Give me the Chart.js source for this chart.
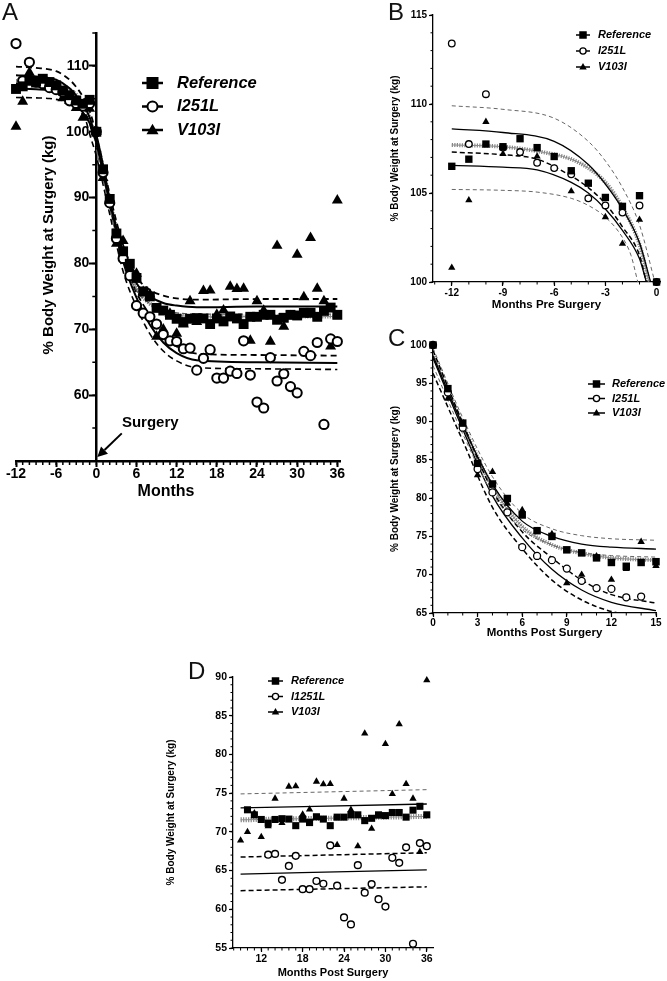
<!DOCTYPE html>
<html>
<head>
<meta charset="utf-8">
<script src="https://cdn.jsdelivr.net/npm/chart.js@4.4.1/dist/chart.umd.min.js"></script>
<style>
  body { margin: 0; background: #fff; }
  #wrap { position: relative; width: 667px; height: 981px; overflow: hidden; }
  canvas { position: absolute; }
  .lab { position: absolute; font: 24px "Liberation Sans", Arial, sans-serif; line-height: 24px; color: #111; }
</style>
</head>
<body>
<div id="wrap">
  <canvas id="cA" width="352" height="500" style="left:0;top:0"></canvas>
  <canvas id="cB" width="282" height="316" style="left:385px;top:0"></canvas>
  <canvas id="cC" width="282" height="314" style="left:385px;top:330px"></canvas>
  <canvas id="cD" width="300" height="341" style="left:150px;top:640px"></canvas>
  <div class="lab" style="left:2px;top:0">A</div>
  <div class="lab" style="left:388px;top:0">B</div>
  <div class="lab" style="left:388px;top:326px">C</div>
  <div class="lab" style="left:188px;top:659px">D</div>
</div>
<script>
// months relative to surgery
var months = [-12,-11,-10,-9,-8,-7,-6,-5,-4,-3,-2,-1,0,
  1,2,3,4,5,6,7,8,9,10,11,12,
  13,14,15,16,17,18,19,20,21,22,23,24,
  25,26,27,28,29,30,31,32,33,34,35,36];

// % body weight at surgery
var refVals = [106.5,106.9,107.75,107.6,108.05,107.55,107.05,106.25,105.55,104.75,104.25,104.85,100,
  94.3,89.8,84.55,81.85,79.95,77.8,75.75,75.0,73.25,72.85,72.2,71.6,
  71.1,71.6,71.7,71.65,70.8,71.65,71.2,71.95,71.65,70.8,71.9,71.9,
  72.2,72.2,71.45,71.75,72.2,72.1,72.5,72.5,71.9,72.8,73.3,72.2];
var i251Vals = [113.4,107.75,110.55,107.55,107.3,106.7,106.4,106.05,104.7,104.3,103.9,104.3,100,
  93.8,89.2,83.8,80.75,78.15,73.6,72.45,71.9,70.8,69.2,68.25,68.15,
  67.05,67.15,63.8,65.6,66.9,62.6,62.6,63.65,63.3,68.25,63.05,58.95,
  58.05,65.7,62.15,63.25,61.3,60.35,66.65,66.0,68.0,55.55,68.55,68.15];
var v103Vals = [100.8,104.6,109.0,107.2,107.2,107.05,106.4,105.1,104.7,103.65,102.15,103.5,100,
  93.0,89.5,83.0,83.45,79.3,78.45,75.7,75.3,68.9,70.0,72.4,69.35,
  70.75,74.3,71.15,75.85,75.9,72.25,72.9,76.5,76.15,76.2,68.3,74.3,
  72.85,68.15,82.7,70.4,72.0,81.35,74.9,83.9,76.2,74.3,67.4,89.6];

// first month shown in panel D for each series
var dFirst = { ref: 10, i251: 13, v103: 9 };

// fitted curves, pre surgery (panel B)
var fitPreHiDash  = [[-12,109.9],[-9,109.7],[-6,109.2],[-4,107.9],[-3,106.8],[-2,105.3],[-1,103.2],[-0.1,100]];
var fitPreHiSolid = [[-12,108.6],[-9,108.4],[-6,107.9],[-4,106.6],[-3,105.5],[-2,104.1],[-1,102.2],[-0.35,100]];
var fitPreRef     = [[-12,107.7],[-9,107.6],[-7,107.35],[-5,106.9],[-4,106.4],[-3,105.6],[-2,104.2],[-1,102.1],[-0.45,100]];
var fitPreMidDash = [[-12,107.3],[-9,107.15],[-7,106.9],[-5,105.95],[-4,105.3],[-3,104.4],[-2,103.1],[-1,101.5],[-0.6,100]];
var fitPreLoSolid = [[-12,106.55],[-9,106.45],[-7,106.3],[-5,105.6],[-4,105.0],[-3,104.1],[-2,102.9],[-1,101.3],[-0.6,100]];
var fitPreLoDash  = [[-12,105.2],[-9,105.15],[-7,105.05],[-5,104.7],[-4,104.3],[-3,103.65],[-2,102.5],[-1.5,101.5],[-1.1,100]];

// fitted curves, post surgery (panel C)
var fitPostV103Hi = [[0,99.6],[2,90.5],[4,82.8],[6,78.0],[8,76.0],[10,75.1],[12,74.7],[15,74.5]];
var fitPostV103   = [[0,98.6],[2,89.5],[4,81.8],[6,77.0],[8,75.0],[10,74.0],[12,73.6],[15,73.35]];
var fitPostV103Lo = [[0,97.3],[2,88.4],[4,80.6],[6,75.9],[8,73.9],[10,72.9],[12,72.5],[15,72.3]];
var fitPostRef    = [[0,98.8],[2,89.6],[4,81.5],[6,76.3],[8,73.9],[10,72.8],[12,72.2],[15,71.9]];
var fitPostI251Hi = [[0,99.3],[2,89.8],[4,81.0],[6,75.6],[8,72.2],[10,69.3],[12,67.4],[15,66.3]];
var fitPostI251   = [[0,98.3],[2,89.0],[4,80.3],[6,74.8],[8,70.7],[10,68.0],[12,66.4],[15,65.3]];
var fitPostI251Lo = [[0,96.3],[2,87.5],[4,78.8],[6,73.4],[8,69.3],[10,66.7],[12,65.2],[15,64.2]];

// plateau of the curves after 15 months (panel A)
var tailV103Hi = [[24,74.6],[36,74.6]];
var tailV103   = [[24,73.45],[36,73.45]];
var tailV103Lo = [[24,72.3],[36,72.3]];
var tailRef    = [[24,71.95],[36,71.95]];
var tailI251Hi = [[24,66.1],[36,66.0]];
var tailI251   = [[24,65.0],[36,64.9]];
var tailI251Lo = [[24,64.0],[36,63.9]];

// straight fits 9-36 months (panel D)
var fitLateV103Hi = [[9,74.9],[36,75.45]];
var fitLateV103   = [[9,73.1],[36,73.6]];
var fitLateRef    = [[9,71.55],[36,72.0]];
var fitLateI251Hi = [[9,66.75],[36,67.3]];
var fitLateI251   = [[9,64.55],[36,65.1]];
var fitLateI251Lo = [[9,62.4],[36,62.9]];

// tick labels
var aTicksX = [-12,-6,0,6,12,18,24,30,36];
var aTicksY = [60,70,80,90,100,110];
var bTicksX = [-12,-9,-6,-3,0];
var bTicksY = [100,105,110,115];
var cTicksX = [0,3,6,9,12,15];
var cTicksY = [65,70,75,80,85,90,95,100];
var dTicksX = [12,18,24,30,36];
var dTicksY = [55,60,65,70,75,80,85,90];

var seriesNames = ['Reference', 'I251L', 'V103I'];
var seriesNamesD = ['Reference', 'I1251L', 'V103I'];
var yTitle = '% Body Weight at Surgery (kg)';

var FAM = '"Liberation Sans", Arial, Helvetica, sans-serif';
Chart.defaults.font.family = FAM;
Chart.defaults.color = '#000';
Chart.defaults.animation = false;
Chart.defaults.events = [];
Chart.defaults.plugins.legend.display = false;
Chart.defaults.plugins.tooltip.enabled = false;

function pts(vals, lo, hi, ymin, ymax) {
  var out = [];
  months.forEach(function (m, i) {
    if (m >= lo && m <= hi && vals[i] >= ymin && vals[i] <= ymax) out.push({ x: m, y: vals[i] });
  });
  return out;
}
function xy(arr) { return arr.map(function (p) { return { x: p[0], y: p[1] }; }); }

function drawMark(ctx, shape, x, y, s, bw) {
  ctx.beginPath();
  if (shape === 'rect') {
    ctx.fillStyle = '#000';
    ctx.fillRect(x - s / 2, y - s / 2, s, s);
    return;
  }
  if (shape === 'circle') {
    ctx.arc(x, y, s / 2 - bw / 2, 0, Math.PI * 2);
    ctx.fillStyle = '#fff'; ctx.fill();
    ctx.lineWidth = bw; ctx.stroke();
    return;
  }
  var h = s * 0.87;
  ctx.moveTo(x, y - h * 0.6);
  ctx.lineTo(x + s / 2, y + h * 0.4);
  ctx.lineTo(x - s / 2, y + h * 0.4);
  ctx.closePath();
  ctx.fillStyle = '#000'; ctx.fill();
}

// minor ticks, inside legend, extra labels and the arrow
var extras = {
  id: 'extras',
  afterDraw: function (chart, args, o) {
    var ctx = chart.ctx, xs = chart.scales.x, ys = chart.scales.y, ca = chart.chartArea;
    ctx.save();
    ctx.strokeStyle = '#000';
    ctx.fillStyle = '#000';
    if (o.minor) {
      var m = o.minor, v;
      ctx.lineWidth = m.w;
      ctx.beginPath();
      for (v = Math.ceil(xs.min); v <= xs.max + 1e-9; v += m.xStep) {
        var px = xs.getPixelForValue(v);
        ctx.moveTo(px, ca.bottom); ctx.lineTo(px, ca.bottom + m.len);
      }
      var ax = (m.yAt !== undefined && m.yAt !== null) ? xs.getPixelForValue(m.yAt) : ca.left;
      for (v = Math.ceil(ys.min); v <= ys.max + 1e-9; v += m.yStep) {
        var py = ys.getPixelForValue(v);
        ctx.moveTo(ax, py); ctx.lineTo(ax - m.len, py);
      }
      ctx.stroke();
    }
    if (o.legend) {
      var L = o.legend;
      L.items.forEach(function (it, i) {
        var y = L.y + i * L.gap;
        ctx.strokeStyle = '#000';
        ctx.lineWidth = L.lw;
        ctx.beginPath(); ctx.moveTo(L.x0, y); ctx.lineTo(L.x1, y); ctx.stroke();
        drawMark(ctx, it.shape, (L.x0 + L.x1) / 2, y, L.ms, L.bw);
        ctx.fillStyle = '#000';
        ctx.font = 'italic bold ' + L.fs + 'px ' + FAM;
        ctx.textAlign = 'left'; ctx.textBaseline = 'middle';
        ctx.fillText(it.label, L.tx, y);
      });
    }
    (o.texts || []).forEach(function (t) {
      var x = t.x, y = t.y;
      if (t.vx !== undefined) { x = xs.getPixelForValue(t.vx); y = ys.getPixelForValue(t.vy); }
      ctx.save();
      ctx.translate(x, y);
      if (t.rot) ctx.rotate(t.rot);
      ctx.font = 'bold ' + t.fs + 'px ' + FAM;
      ctx.textAlign = 'center'; ctx.textBaseline = 'middle';
      ctx.fillStyle = '#000';
      ctx.fillText(t.t, 0, 0);
      ctx.restore();
    });
    if (o.arrow) {
      var a = o.arrow;
      var x1 = xs.getPixelForValue(a.from[0]), y1 = ys.getPixelForValue(a.from[1]);
      var x2 = xs.getPixelForValue(a.to[0]), y2 = ys.getPixelForValue(a.to[1]);
      var ang = Math.atan2(y2 - y1, x2 - x1);
      var hx = x2 - a.head * Math.cos(ang), hy = y2 - a.head * Math.sin(ang);
      ctx.lineWidth = a.w;
      ctx.beginPath(); ctx.moveTo(x1, y1); ctx.lineTo(hx, hy); ctx.stroke();
      ctx.beginPath();
      ctx.moveTo(x2, y2);
      ctx.lineTo(hx + a.hw * Math.sin(ang), hy - a.hw * Math.cos(ang));
      ctx.lineTo(hx - a.hw * Math.sin(ang), hy + a.hw * Math.cos(ang));
      ctx.closePath(); ctx.fill();
    }
    ctx.restore();
  }
};
Chart.register(extras);

function axis(o) {
  var tail = o.suffix || '';
  return {
    type: 'linear', min: o.min, max: o.max, position: o.pos,
    afterBuildTicks: function (s) { s.ticks = o.ticks.map(function (v) { return { value: v }; }); },
    afterFit: function (s) {
      if (o.size === undefined) return;
      if (s.isHorizontal()) s.height = o.size; else s.width = o.size;
    },
    ticks: { autoSkip: false, maxRotation: 0, padding: o.pad, color: '#000',
      font: { size: o.fs, weight: 'bold' }, callback: function (v) { return String(v) + tail; } },
    grid: { drawOnChartArea: false, drawTicks: true, tickLength: o.tl, tickWidth: o.tw, tickColor: '#000' },
    border: { display: true, color: '#000', width: o.bw },
    title: o.title ? { display: true, text: o.title, color: '#000',
      font: { size: o.tfs, weight: 'bold' }, padding: o.tpad } : { display: false }
  };
}

function curve(arr, st) {
  return { type: 'scatter', data: xy(arr), showLine: true, pointRadius: 0,
    borderColor: st.c || '#000', borderWidth: st.w, borderDash: st.d || [],
    cubicInterpolationMode: 'monotone', fill: false, order: st.o || 10 };
}
function hatched(arr, w) {
  return [
    curve(arr, { c: 'rgba(110,110,110,0.85)', w: w, d: [1.2, 1.3], o: 12 }),
    curve(arr, { c: '#8a8a8a', w: 1, o: 11 })
  ];
}
function marks(first, last, ymin, ymax, sz) {
  return [
    { type: 'scatter', label: 'V103I', data: pts(v103Vals, first.v103, last, ymin, ymax),
      pointStyle: 'triangle', pointRadius: sz.tr, backgroundColor: '#000', borderColor: '#000',
      borderWidth: 0, clip: false, order: 3 },
    { type: 'scatter', label: 'I251L', data: pts(i251Vals, first.i251, last, ymin, ymax),
      pointStyle: 'circle', pointRadius: sz.ci, backgroundColor: '#fff', borderColor: '#000',
      borderWidth: sz.bw, clip: false, order: 2 },
    { type: 'scatter', label: 'Reference', data: pts(refVals, first.ref, last, ymin, ymax),
      pointStyle: 'rect', pointRadius: sz.sq, backgroundColor: '#000', borderColor: '#000',
      borderWidth: 0, clip: false, order: 1 }
  ];
}
function legendItems(names) {
  return [
    { label: names[0], shape: 'rect' },
    { label: names[1], shape: 'circle' },
    { label: names[2], shape: 'triangle' }
  ];
}

// ---- Panel A ----
var solidA = { w: 2 }, dashA = { w: 1.8, d: [6, 4] }, thinA = { c: '#555', w: 1.3, d: [5, 3] };
new Chart(document.getElementById('cA'), {
  type: 'scatter',
  data: {
    datasets: [
      curve(fitPreHiDash.concat(fitPostV103Hi, tailV103Hi), dashA),
      curve(fitPreHiSolid.concat(fitPostV103, tailV103), solidA),
      curve(fitPostV103Lo.concat(tailV103Lo), thinA),
      curve(fitPreMidDash.concat(fitPostI251Hi, tailI251Hi), dashA),
      curve(fitPreLoSolid.concat(fitPostI251, tailI251), solidA),
      curve(fitPreLoDash.concat(fitPostI251Lo, tailI251Lo), Object.assign({}, dashA, { w: 1.6 }))
    ].concat(hatched(fitPreRef.concat(fitPostRef, tailRef), 4),
      marks({ ref: -12, i251: -12, v103: -12 }, 36, 50, 115, { sq: 7, ci: 4.6, bw: 2, tr: 6.3 }))
  },
  options: {
    responsive: false,
    layout: { padding: { left: 16, top: 33, right: 12, bottom: 0 } },
    scales: {
      x: axis({ min: -12, max: 36.4, pos: 'bottom', ticks: aTicksX, size: 39, pad: -1, fs: 14, tl: 6, tw: 2, bw: 2.5 }),
      // y axis crosses at month 0; en space keeps labels clear of the tick marks
      y: axis({ min: 50, max: 115, pos: { x: 0 }, ticks: aTicksY, pad: 3, fs: 14, tl: 6, tw: 2, bw: 2.5, suffix: '\u2002' })
    },
    plugins: {
      extras: {
        minor: { xStep: 1, yStep: 5, len: 4, w: 1.5, yAt: 0 },
        legend: { x0: 142, x1: 163, tx: 177, y: 83, gap: 23.5, fs: 16.5, lw: 2.5, ms: 12, bw: 2,
          items: legendItems(seriesNames) },
        texts: [
          { t: yTitle, x: 49, y: 245, fs: 15, rot: -Math.PI / 2 },
          { t: 'Months', x: 166, y: 492, fs: 16 },
          { t: 'Surgery', vx: 8.06, vy: 55.8, fs: 15 }
        ],
        arrow: { from: [3.8, 54.2], to: [0.15, 50.6], w: 2, head: 10, hw: 5 }
      }
    }
  }
});

// ---- Panel B ----
var solidS = { w: 1.3 }, dashS = { w: 1.5, d: [5, 3] }, thinS = { c: '#666', w: 1, d: [4, 3] };
new Chart(document.getElementById('cB'), {
  type: 'scatter',
  data: {
    datasets: [
      curve(fitPreHiDash, thinS),
      curve(fitPreHiSolid, solidS),
      curve(fitPreMidDash, dashS),
      curve(fitPreLoSolid, solidS),
      curve(fitPreLoDash, thinS)
    ].concat(hatched(fitPreRef, 4),
      marks({ ref: -12, i251: -12, v103: -12 }, 0, 100, 115, { sq: 5.2, ci: 3.3, bw: 1.3, tr: 4.2 }))
  },
  options: {
    responsive: false,
    layout: { padding: { left: 0, top: 15, right: 7, bottom: 0 } },
    scales: {
      x: axis({ min: -13.1, max: 0.2, pos: 'bottom', ticks: bTicksX, size: 34, pad: 1, fs: 10, tl: 4, tw: 1.2, bw: 1.3,
        title: 'Months Pre Surgery', tfs: 11.5, tpad: { top: 0, bottom: 4 } }),
      y: axis({ min: 100, max: 115, pos: 'left', ticks: bTicksY, size: 48, pad: 2, fs: 10, tl: 4, tw: 1.2, bw: 1.3,
        title: yTitle, tfs: 10, tpad: { top: 4, bottom: 0 } })
    },
    plugins: {
      extras: {
        minor: { xStep: 1, yStep: 1, len: 2.5, w: 1 },
        legend: { x0: 191, x1: 205, tx: 213, y: 35, gap: 16, fs: 11, lw: 1.5, ms: 7.5, bw: 1.3,
          items: legendItems(seriesNames) }
      }
    }
  }
});

// ---- Panel C ----
new Chart(document.getElementById('cC'), {
  type: 'scatter',
  data: {
    datasets: [
      curve(fitPostV103Hi, thinS),
      curve(fitPostV103, solidS),
      curve(fitPostV103Lo, thinS),
      curve(fitPostI251Hi, dashS),
      curve(fitPostI251, solidS),
      curve(fitPostI251Lo, dashS)
    ].concat(hatched(fitPostRef, 4),
      marks({ ref: 0, i251: 0, v103: 0 }, 15, 65, 100, { sq: 5.3, ci: 3.5, bw: 1.3, tr: 4.3 }))
  },
  options: {
    responsive: false,
    layout: { padding: { left: 0, top: 15, right: 11, bottom: 0 } },
    scales: {
      x: axis({ min: 0, max: 15, pos: 'bottom', ticks: cTicksX, size: 31, pad: 0, fs: 10, tl: 4, tw: 1.2, bw: 1.3,
        title: 'Months Post Surgery', tfs: 11.5, tpad: { top: 0, bottom: 4 } }),
      y: axis({ min: 65, max: 100, pos: 'left', ticks: cTicksY, size: 48, pad: 2, fs: 10, tl: 4, tw: 1.2, bw: 1.3,
        title: yTitle, tfs: 10, tpad: { top: 4, bottom: 0 } })
    },
    plugins: {
      extras: {
        minor: { xStep: 1, yStep: 1, len: 2.5, w: 1 },
        legend: { x0: 203, x1: 220, tx: 227, y: 54, gap: 14.5, fs: 11, lw: 1.5, ms: 7.5, bw: 1.3,
          items: legendItems(seriesNames) }
      }
    }
  }
});

// ---- Panel D ----
new Chart(document.getElementById('cD'), {
  type: 'scatter',
  data: {
    datasets: [
      curve(fitLateV103Hi, thinS),
      curve(fitLateV103, solidS),
      curve(fitLateI251Hi, dashS),
      curve(fitLateI251, solidS),
      curve(fitLateI251Lo, dashS)
    ].concat(hatched(fitLateRef, 5),
      marks(dFirst, 36, 55, 90, { sq: 5, ci: 3.4, bw: 1.4, tr: 4.2 }))
  },
  options: {
    responsive: false,
    layout: { padding: { left: 11, top: 37, right: 17, bottom: 0 } },
    scales: {
      x: axis({ min: 7.9, max: 36.9, pos: 'bottom', ticks: dTicksX, size: 33, pad: 1, fs: 10.5, tl: 4, tw: 1.2, bw: 1.3,
        title: 'Months Post Surgery', tfs: 11, tpad: { top: 0, bottom: 1 } }),
      y: axis({ min: 55, max: 90, pos: 'left', ticks: dTicksY, size: 72, pad: 2, fs: 10.5, tl: 4, tw: 1.2, bw: 1.3,
        title: yTitle, tfs: 10, tpad: { top: 4, bottom: 0 } })
    },
    plugins: {
      extras: {
        minor: { xStep: 1, yStep: 1, len: 2.5, w: 1 },
        legend: { x0: 118, x1: 133, tx: 141, y: 41, gap: 15.5, fs: 11, lw: 1.5, ms: 7.5, bw: 1.3,
          items: legendItems(seriesNamesD) }
      }
    }
  }
});
</script>
</body>
</html>
